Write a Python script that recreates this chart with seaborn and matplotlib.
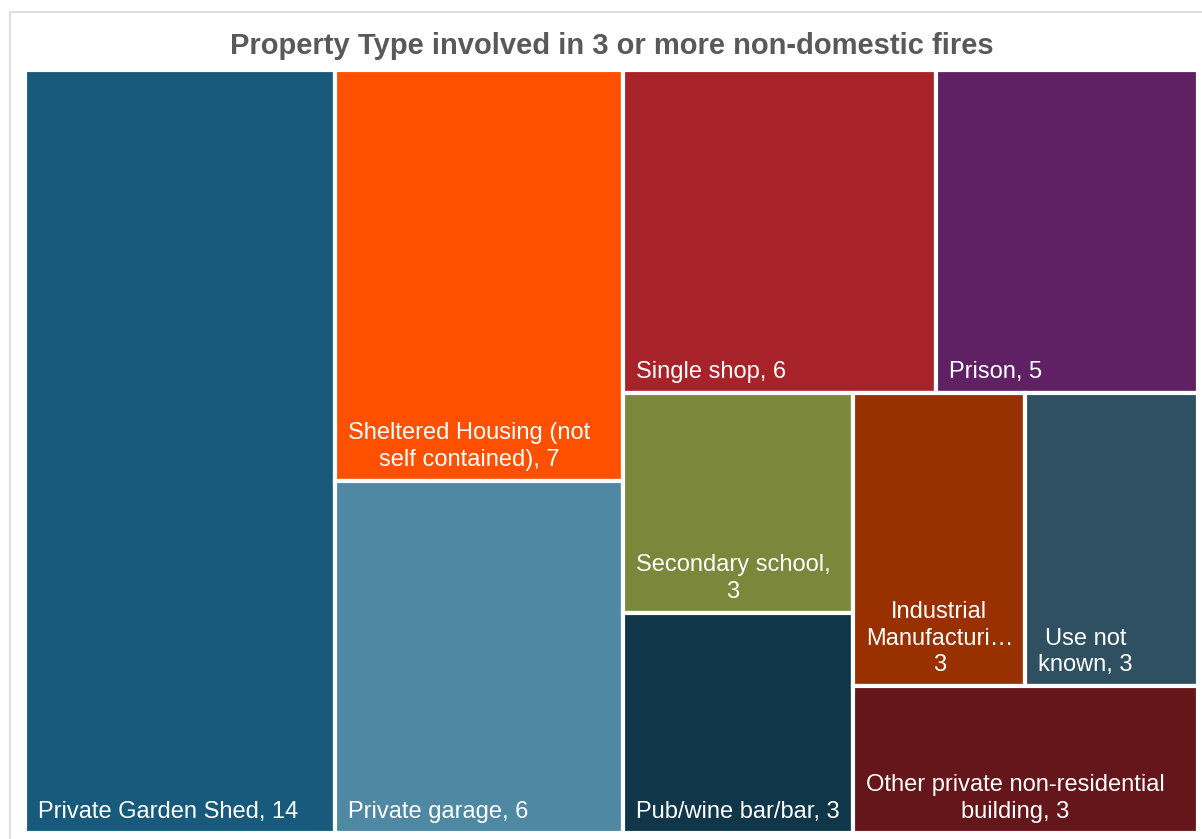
import matplotlib
matplotlib.use("Agg")
import matplotlib.pyplot as plt
from matplotlib.patches import Rectangle
from matplotlib.lines import Line2D
import seaborn as sns

# Property types (largest first) and number of fires
categories = [
    "Private Garden Shed",
    "Sheltered Housing (not self contained)",
    "Private garage",
    "Single shop",
    "Prison",
    "Secondary school",
    "Pub/wine bar/bar",
    "Industrial Manufacturing",
    "Use not known",
    "Other private non-residential building",
]
fires = [14, 7, 6, 6, 5, 3, 3, 3, 3, 3]

# Label text shown inside each tile (value appended below)
label_prefix = [
    "Private Garden Shed, ",
    "Sheltered Housing (not\nself contained), ",
    "Private garage, ",
    "Single shop, ",
    "Prison, ",
    "Secondary school,\n",
    "Pub/wine bar/bar, ",
    "Industrial\nManufacturi\u2026\n",
    "Use not\nknown, ",
    "Other private non-residential\nbuilding, ",
]

colors = [
    "#175A7B", "#FF5000", "#4F88A2", "#A8222A", "#602164",
    "#7B873B", "#10364A", "#993000", "#2F5060", "#64161A",
]

# Number of tiles in each successive strip of the treemap
strips = [1, 2, 2, 2, 2, 1]

title = "Property Type involved in 3 or more non-domestic fires"


def strip_layout(values, groups, x, y, w, h):
    """Slice the rectangle into strips; each strip runs along the short side."""
    rects = []
    i = 0
    remaining = float(sum(values))
    for n in groups:
        group = values[i:i + n]
        s = float(sum(group))
        if w >= h:
            cw = w * s / remaining
            yy = y
            for v in group:
                hh = h * v / s
                rects.append((x, yy, cw, hh))
                yy += hh
            x += cw
            w -= cw
        else:
            rh = h * s / remaining
            xx = x
            for v in group:
                ww = w * v / s
                rects.append((xx, y, ww, rh))
                xx += ww
            y += rh
            h -= rh
        remaining -= s
        i += n
    return rects


sns.set_theme(style="white")
plt.rcParams["font.family"] = ["Liberation Sans", "DejaVu Sans"]

W_PX, H_PX = 1202, 839
fig = plt.figure(figsize=(W_PX / 100, H_PX / 100), dpi=100)
fig.patch.set_facecolor("white")

# Plot area in pixels
left, top, right, bottom = 25, 70, 1198, 833
ax = fig.add_axes([left / W_PX, 1 - bottom / H_PX,
                   (right - left) / W_PX, (bottom - top) / H_PX])
aw, ah = right - left, bottom - top
ax.set_xlim(0, aw)
ax.set_ylim(ah, 0)
ax.set_axis_off()

rects = strip_layout(fires, strips, 0, 0, aw, ah)

pad_x, pad_y = 13, 10
for (x, y, w, h), c, pre, v in zip(rects, colors, label_prefix, fires):
    ax.add_patch(Rectangle((x, y), w, h, facecolor=c, edgecolor="white",
                           linewidth=3.0))
    ax.text(x + pad_x, y + h - pad_y, f"{pre}{v}", color="white",
            fontsize=17, ha="left", va="bottom", multialignment="center",
            linespacing=1.27)

fig.text(612 / W_PX, 1 - 54 / H_PX, title, ha="center", va="baseline",
         fontsize=21, fontweight="bold", color="#595959")

# Light chart-area frame
fig.add_artist(Line2D([10.5 / W_PX, 10.5 / W_PX], [1 - 12 / H_PX, 0],
                      color="#D9D9D9", linewidth=1.2, transform=fig.transFigure))
fig.add_artist(Line2D([10.5 / W_PX, 1], [1 - 12 / H_PX, 1 - 12 / H_PX],
                      color="#D9D9D9", linewidth=1.2, transform=fig.transFigure))

fig.savefig("out.png", dpi=100, facecolor="white")
